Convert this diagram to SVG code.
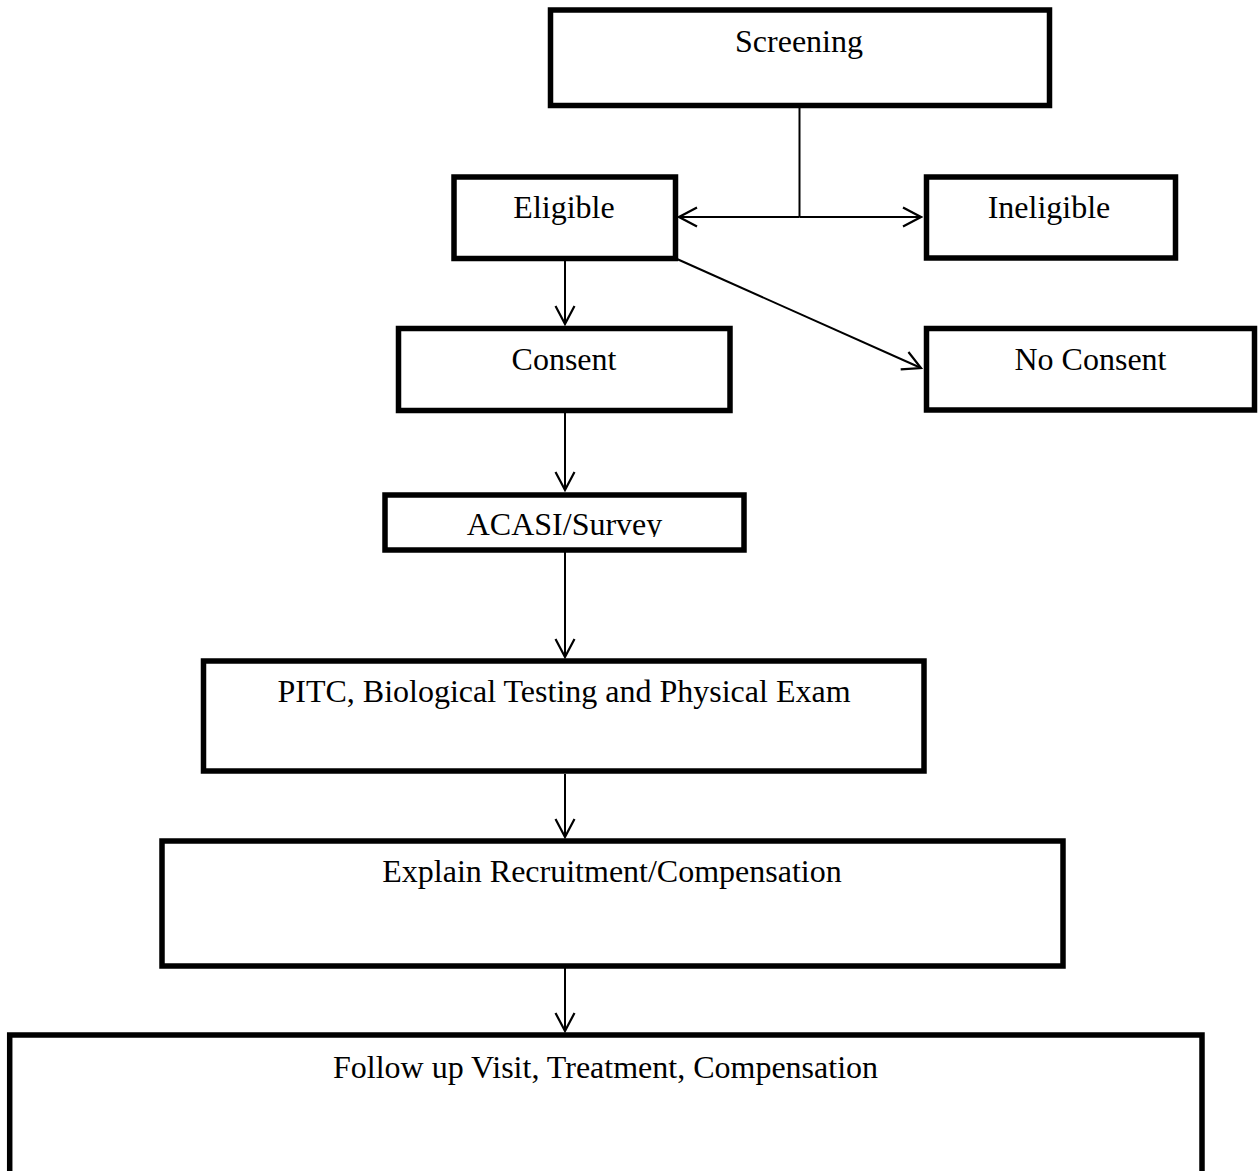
<svg xmlns="http://www.w3.org/2000/svg" width="1258" height="1171" viewBox="0 0 1258 1171">
<style>
.box{fill:#fff;stroke:#000;stroke-width:5.5}
.lbl{font-family:"Liberation Serif","Times New Roman",serif;font-size:32px;fill:#000;text-anchor:middle}
.con{fill:none;stroke:#000;stroke-width:2}
</style>
<defs>
<marker id="arr" viewBox="-20 -11 22 22" markerWidth="22" markerHeight="22" refX="0" refY="0" orient="auto" markerUnits="userSpaceOnUse">
<path d="M-18,-9.5 L0,0 L-18,9.5" fill="none" stroke="#000" stroke-width="2.2"/>
</marker>
<clipPath id="acasiClip"><rect x="384" y="495" width="360" height="42"/></clipPath>
</defs>
<rect width="1258" height="1171" fill="#fff"/>
<g id="connectors">
<line class="con" x1="799.5" y1="108" x2="799.5" y2="217"/>
<line class="con" x1="799.5" y1="217" x2="679" y2="217" marker-end="url(#arr)"/>
<line class="con" x1="799.5" y1="217" x2="921" y2="217" marker-end="url(#arr)"/>
<line class="con" x1="565" y1="261" x2="565" y2="324" marker-end="url(#arr)"/>
<line class="con" x1="677" y1="259" x2="921" y2="368" marker-end="url(#arr)"/>
<line class="con" x1="565" y1="413" x2="565" y2="490" marker-end="url(#arr)"/>
<line class="con" x1="565" y1="552" x2="565" y2="657" marker-end="url(#arr)"/>
<line class="con" x1="565" y1="774" x2="565" y2="837" marker-end="url(#arr)"/>
<line class="con" x1="565" y1="968" x2="565" y2="1031" marker-end="url(#arr)"/>
</g>
<g id="screening"><rect class="box" x="550.5" y="10" width="499" height="95.5"/><text class="lbl" x="799" y="52">Screening</text></g>
<g id="eligible"><rect class="box" x="454" y="177" width="221.5" height="81.5"/><text class="lbl" x="564" y="218">Eligible</text></g>
<g id="ineligible"><rect class="box" x="926.5" y="177" width="249" height="81"/><text class="lbl" x="1049" y="218">Ineligible</text></g>
<g id="consent"><rect class="box" x="398.5" y="328.5" width="331.5" height="82"/><text class="lbl" x="564" y="370">Consent</text></g>
<g id="noconsent"><rect class="box" x="926.5" y="328.5" width="328" height="81.5"/><text class="lbl" x="1090.5" y="370">No Consent</text></g>
<g id="acasi"><rect class="box" x="385" y="495" width="359" height="55"/><text class="lbl" x="564.5" y="535" clip-path="url(#acasiClip)">ACASI/Survey</text></g>
<g id="pitc"><rect class="box" x="203.5" y="661" width="720.5" height="110"/><text class="lbl" x="564" y="702">PITC, Biological Testing and Physical Exam</text></g>
<g id="explain"><rect class="box" x="162" y="841" width="901" height="125"/><text class="lbl" x="612" y="882">Explain Recruitment/Compensation</text></g>
<g id="followup"><rect class="box" x="9.7" y="1035" width="1192.3" height="200"/><text class="lbl" x="605.5" y="1078">Follow up Visit, Treatment, Compensation</text></g>
</svg>
